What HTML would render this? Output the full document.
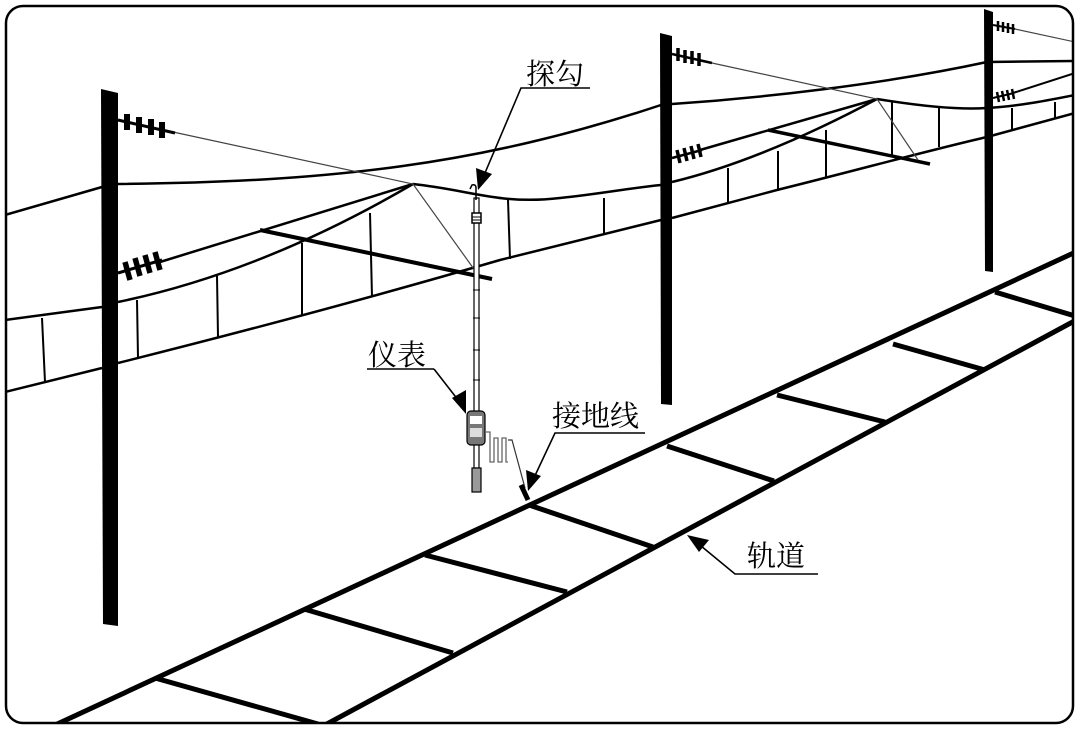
<!DOCTYPE html>
<html><head><meta charset="utf-8"><style>
html,body{margin:0;padding:0;background:#fff;}
svg{display:block;}
text{font-family:"Noto Serif CJK SC","Liberation Serif",serif;font-size:29px;fill:#000;}
</style></head><body>
<svg width="1080" height="730" viewBox="0 0 1080 730" xmlns="http://www.w3.org/2000/svg">
<defs>
<clipPath id="c"><rect x="6" y="6" width="1067" height="717" rx="17"/></clipPath>
</defs>
<rect width="1080" height="730" fill="#fff"/>
<g clip-path="url(#c)" fill="none" stroke="#000" stroke-linecap="butt">
<path d="M40,732 L1080,250" stroke-width="5"/>
<path d="M312,732 L1080,318" stroke-width="5"/>
<g stroke-width="5">
<line x1="155" y1="678" x2="318" y2="724"/>
<line x1="304" y1="609" x2="453" y2="653"/>
<line x1="425" y1="555" x2="567" y2="592"/>
<line x1="529" y1="505" x2="653" y2="547"/>
<line x1="667" y1="446" x2="774" y2="481"/>
<line x1="777" y1="395" x2="885" y2="422"/>
<line x1="893" y1="344" x2="985" y2="370"/>
<line x1="995" y1="292" x2="1075" y2="316"/>
</g>
<path d="M5,215 L102,187" stroke-width="2.5"/>
<path d="M118,184 C330,182 480,165 661,105" stroke-width="2.5"/>
<path d="M672,104 C760,98 880,85 987,62 L1075,61" stroke-width="2.5"/>
<path d="M5,320 L102,307" stroke-width="2.5"/>
<path d="M118,302 C200,285 300,250 413,184" stroke-width="2.5"/>
<path d="M413,184 C470,190 500,205 560,198 C600,194 630,188 661,185" stroke-width="2.5"/>
<path d="M672,182 C730,168 800,140 877,99" stroke-width="2.5"/>
<path d="M877,99 C920,106 960,110 987,108 C1020,106 1050,100 1075,95" stroke-width="2.5"/>
<path d="M160,262 L413,184" stroke-width="2.5"/>
<path d="M700,150 L877,99" stroke-width="2.5"/>
<path d="M1013,93 L1075,73" stroke-width="2"/>
<path d="M5,392 L102,368" stroke-width="2.5"/>
<path d="M118,363 C250,330 380,295 500,260 L661,220" stroke-width="2.5"/>
<path d="M672,218 L777,190 C850,172 930,150 987,137 L1075,113" stroke-width="2.5"/>
<g stroke-width="2">
<line x1="42" y1="318" x2="45" y2="382"/>
<line x1="137" y1="300" x2="138" y2="358"/>
<line x1="217" y1="276" x2="218" y2="337"/>
<line x1="302" y1="243" x2="302" y2="315"/>
<line x1="370" y1="213" x2="372" y2="297"/>
<line x1="508" y1="200" x2="510" y2="259"/>
<line x1="604" y1="198" x2="604" y2="235"/>
<line x1="728" y1="168" x2="728" y2="203"/>
<line x1="778" y1="151" x2="778" y2="191"/>
<line x1="826" y1="130" x2="826" y2="177"/>
<line x1="892" y1="102" x2="892" y2="157"/>
<line x1="939" y1="108" x2="939" y2="147"/>
<line x1="1012" y1="108" x2="1012" y2="129"/>
<line x1="1055" y1="102" x2="1055" y2="118"/>
</g>
<line x1="260" y1="230" x2="492" y2="279" stroke-width="4"/>
<line x1="768" y1="130" x2="930" y2="164" stroke-width="3.5"/>
<g stroke="#444" stroke-width="1.2">
<path d="M173,132 L413,184 L476,272"/>
<path d="M712,63 L877,99 L918,160"/>
<path d="M1015,29 L1075,42"/>
</g>
<polygon points="101,89 118,93 118,626 103,624" fill="#000" stroke="none"/>
<polygon points="660,33 672,36 672,405 661,404" fill="#000" stroke="none"/>
<polygon points="984,9 993,12 993,272 985,271" fill="#000" stroke="none"/>
<path d="M118,120 L175,133" stroke-width="3"/>
<g stroke-width="6"><line x1="127" y1="114" x2="127" y2="130"/><line x1="139" y1="117" x2="139" y2="133"/><line x1="151" y1="119" x2="151" y2="135"/><line x1="162" y1="122" x2="162" y2="138"/></g>
<path d="M118,273 L162,260" stroke-width="3"/>
<g stroke-width="5.5"><line x1="125" y1="262" x2="130" y2="280"/><line x1="135" y1="258" x2="140" y2="276"/><line x1="145" y1="255" x2="150" y2="273"/><line x1="155" y1="252" x2="160" y2="270"/></g>
<path d="M672,54 L712,63" stroke-width="2.5"/>
<g stroke-width="3.5"><line x1="678" y1="48" x2="678" y2="61"/><line x1="685" y1="50" x2="685" y2="63"/><line x1="692" y1="51" x2="692" y2="64"/><line x1="699" y1="53" x2="699" y2="66"/></g>
<path d="M672,158 L702,150" stroke-width="2.5"/>
<g stroke-width="3.5"><line x1="677" y1="150" x2="680" y2="163"/><line x1="684" y1="148" x2="687" y2="161"/><line x1="691" y1="146" x2="694" y2="159"/><line x1="698" y1="144" x2="701" y2="157"/></g>
<path d="M993,25 L1015,29" stroke-width="2"/>
<g stroke-width="2.5"><line x1="998" y1="21" x2="998" y2="31"/><line x1="1003" y1="22" x2="1003" y2="32"/><line x1="1008" y1="23" x2="1008" y2="33"/><line x1="1013" y1="24" x2="1013" y2="34"/></g>
<path d="M993,98 L1014,93" stroke-width="2"/>
<g stroke-width="2.5"><line x1="997" y1="92" x2="999" y2="102"/><line x1="1002" y1="91" x2="1004" y2="101"/><line x1="1007" y1="90" x2="1009" y2="100"/><line x1="1012" y1="89" x2="1014" y2="99"/></g>
<rect x="474" y="198" width="5" height="270" fill="#fff" stroke-width="1.2"/>
<path d="M476,200 L476,188 Q476,184 472,185 L470,189" stroke-width="1.5"/>
<rect x="472" y="213" width="9" height="10" fill="#fff" stroke-width="1.5"/>
<line x1="472" y1="217" x2="481" y2="217" stroke-width="1"/>
<line x1="472" y1="220" x2="481" y2="220" stroke-width="1"/>
<g stroke-width="1"><line x1="473" y1="290" x2="480" y2="290"/><line x1="473" y1="318" x2="480" y2="318"/><line x1="473" y1="350" x2="480" y2="350"/><line x1="473" y1="380" x2="480" y2="380"/></g>
<rect x="472" y="468" width="9" height="24" fill="#999" stroke-width="1.2"/>
<rect x="467" y="411" width="18" height="34" rx="4" fill="#777" stroke-width="1.2"/>
<rect x="470" y="416" width="12" height="8" fill="#fff" stroke="none"/>
<rect x="470" y="428" width="12" height="9" fill="#ddd" stroke="none"/>
<path d="M485,432 L490,432 L490,462 L494,462 L494,438 L498,438 L498,462 L502,462 L502,438 L506,438 L506,462 L508,462" stroke="#666" stroke-width="1.3"/>
<path d="M508,440 L512,440 L525,488" stroke="#333" stroke-width="1.2"/>
<line x1="521" y1="485" x2="528" y2="500" stroke-width="5"/>
</g>
<rect x="6" y="6" width="1067" height="717" rx="17" fill="none" stroke="#000" stroke-width="2.5"/>
<g stroke="#000" stroke-width="1.6" fill="none">
<path d="M590,88 L521,88 L482,180"/>
<path d="M434,369 L367,369"/><path d="M434,369 L462,405"/>
<path d="M645,433 L555,433 L532,482"/>
<path d="M818,574 L735,574 L695,541"/>
</g>
<g fill="#000">
<polygon points="478,190 476,168 492,174"/>
<polygon points="466,414 452,398 466,390"/>
<polygon points="528,491 526,470 541,476"/>
<polygon points="687,535 709,540 699,552"/>
</g>
<text x="526" y="84">探勾</text>
<text x="368" y="365">仪表</text>
<text x="552" y="426">接地线</text>
<text x="747" y="566">轨道</text>
</svg>
</body></html>
